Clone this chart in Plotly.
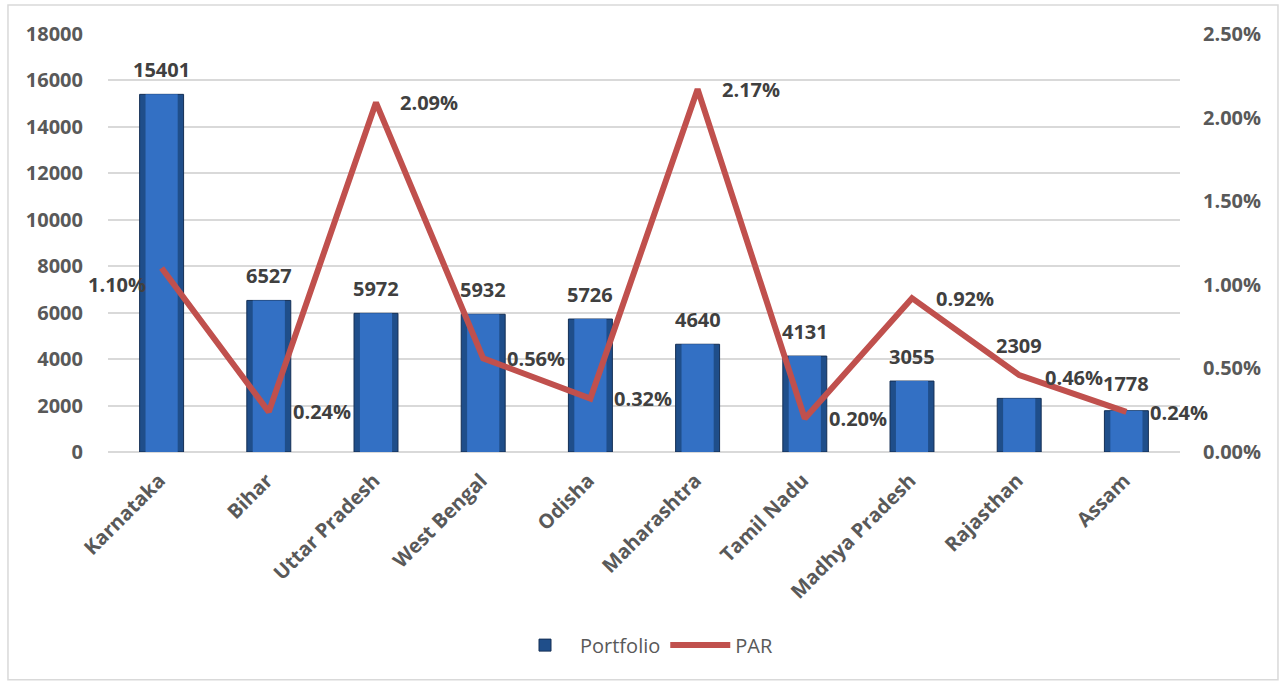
import plotly.graph_objects as go

# State-wise portfolio size and portfolio-at-risk
states = ["Karnataka", "Bihar", "Uttar Pradesh", "West Bengal", "Odisha",
          "Maharashtra", "Tamil Nadu", "Madhya Pradesh", "Rajasthan", "Assam"]
portfolio = [15401, 6527, 5972, 5932, 5726, 4640, 4131, 3055, 2309, 1778]
par_pct = [1.10, 0.24, 2.09, 0.56, 0.32, 2.17, 0.20, 0.92, 0.46, 0.24]

left_ticks = [0, 2000, 4000, 6000, 8000, 10000, 12000, 14000, 16000, 18000]
right_ticks = [0.0, 0.5, 1.0, 1.5, 2.0, 2.5]

# label placement (pixel shifts)
bar_label_shift = [25, 25, 25, 25, 25, 25, 25, 25, 53, 27]
par_label_shift = [(-14, -16, "right")] + [(22, 0, "left")] * 7 + [(24, -2, "left"), (22, -1, "left")]

FONT = "Open Sans"
AXIS_GREY = "#595959"
LABEL_GREY = "#404040"
FS = 20

fig = go.Figure()

# bevelled bar look: dark outer body with a lighter inner face
fig.add_trace(go.Bar(
    x=states, y=portfolio, name="Portfolio", width=0.41,
    marker=dict(color="#1f4e8a", line=dict(color="#142f55", width=1)),
    hoverinfo="x+y",
))
fig.add_trace(go.Bar(
    x=states, y=portfolio, width=0.30, showlegend=False,
    marker=dict(color="#3370c4", line=dict(width=0)),
    hoverinfo="skip",
))
fig.add_trace(go.Scatter(
    x=states, y=par_pct, name="PAR", yaxis="y2", mode="lines",
    line=dict(color="#c0504d", width=6),
))

annotations = []
for s, v, dy in zip(states, portfolio, bar_label_shift):
    annotations.append(dict(
        x=s, y=v, xref="x", yref="y", text=f"{v}", showarrow=False,
        yshift=dy, font=dict(family=FONT, size=FS, color=LABEL_GREY, weight="bold"),
    ))
for s, p, (dx, dy, anc) in zip(states, par_pct, par_label_shift):
    annotations.append(dict(
        x=s, y=p, xref="x", yref="y2", text=f"{p:.2f}%", showarrow=False,
        xanchor=anc, xshift=dx, yshift=dy,
        font=dict(family=FONT, size=FS, color=LABEL_GREY, weight="bold"),
    ))

fig.update_layout(
    width=1282, height=682,
    margin=dict(l=108, r=102, t=34, b=230),
    paper_bgcolor="white", plot_bgcolor="white",
    barmode="overlay",
    font=dict(family=FONT, color=AXIS_GREY),
    xaxis=dict(
        range=[-0.5, 9.5], automargin=False,
        tickangle=-45, showgrid=False, showline=False, ticks="",
        ticklabelstandoff=12, ticklabelshift=-2,
        tickfont=dict(family=FONT, size=FS, color=AXIS_GREY, weight="bold"),
    ),
    yaxis=dict(
        range=[0, 18000], tickvals=left_ticks, ticktext=[str(t) for t in left_ticks],
        automargin=False,
        showgrid=True, gridcolor="#d9d9d9", gridwidth=1.5, zeroline=True,
        zerolinecolor="#d9d9d9", zerolinewidth=1.5, showline=False, ticks="",
        ticklabelstandoff=24,
        tickfont=dict(family=FONT, size=FS, color=AXIS_GREY, weight="bold"),
    ),
    yaxis2=dict(
        overlaying="y", side="right", range=[0, 2.5], automargin=False,
        tickvals=right_ticks, ticktext=[f"{t:.2f}%" for t in right_ticks],
        showgrid=False, zeroline=False, showline=False, ticks="",
        ticklabelstandoff=22,
        tickfont=dict(family=FONT, size=FS, color=AXIS_GREY, weight="bold"),
    ),
    legend=dict(
        orientation="h", x=0.5, xanchor="center", y=-0.462, yanchor="middle",
        font=dict(family=FONT, size=20, color=AXIS_GREY),
        itemwidth=60, traceorder="normal",
    ),
    annotations=annotations,
    shapes=[dict(
        type="rect", xref="paper", yref="paper",
        x0=-0.0933, x1=1.0914, y0=-0.545, y1=1.0694,
        line=dict(color="#d9d9d9", width=1.5), fillcolor="rgba(0,0,0,0)",
        layer="below",
    )],
)

fig.write_html("out.html")
